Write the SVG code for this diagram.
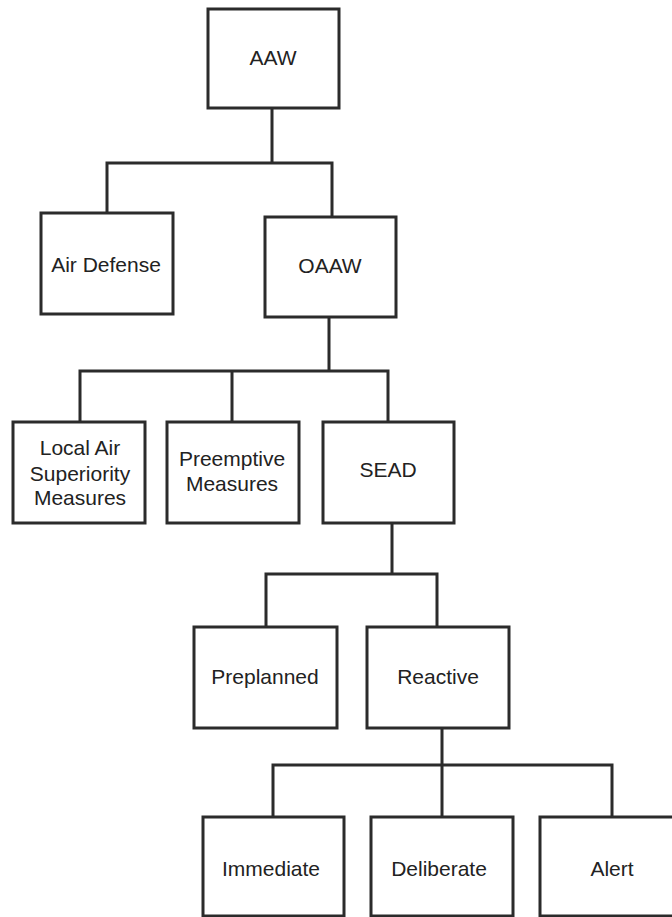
<svg xmlns="http://www.w3.org/2000/svg" width="672" height="917" viewBox="0 0 672 917">
<style>
.box{fill:#fff;stroke:#2b2b2b;stroke-width:3}
.lbl{font-family:"Liberation Sans",Arial,sans-serif;font-size:21px;fill:#222;text-anchor:middle}
.con{fill:none;stroke:#2b2b2b;stroke-width:3;stroke-linecap:square}
</style>
<rect width="672" height="917" fill="#fff"/>
<g id="connectors">
<path class="con" d="M272,108 V163 M107,163 H332 M107,163 V213 M332,163 V217"/>
<path class="con" d="M329,317 V371 M80,371 H388 M80,371 V422 M232,371 V422 M388,371 V422"/>
<path class="con" d="M392,523 V574 M266,574 H437 M266,574 V627 M437,574 V627"/>
<path class="con" d="M442,728 V765 M273,765 H612 M273,765 V817 M442,765 V817 M612,765 V817"/>
</g>
<g id="aaw"><rect class="box" x="208" y="9" width="131" height="99"/><text class="lbl" x="273" y="65">AAW</text></g>
<g id="air-defense"><rect class="box" x="41" y="213" width="132" height="101"/><text class="lbl" x="106" y="272">Air Defense</text></g>
<g id="oaaw"><rect class="box" x="265" y="217" width="131" height="100"/><text class="lbl" x="330" y="273">OAAW</text></g>
<g id="local-air"><rect class="box" x="13" y="422" width="132" height="101"/><text class="lbl" x="80"><tspan x="80" y="455">Local Air</tspan><tspan x="80" y="481">Superiority</tspan><tspan x="80" y="505">Measures</tspan></text></g>
<g id="preemptive"><rect class="box" x="167" y="422" width="132" height="101"/><text class="lbl" x="232"><tspan x="232" y="466">Preemptive</tspan><tspan x="232" y="491">Measures</tspan></text></g>
<g id="sead"><rect class="box" x="323" y="422" width="131" height="101"/><text class="lbl" x="388" y="477">SEAD</text></g>
<g id="preplanned"><rect class="box" x="194" y="627" width="143" height="101"/><text class="lbl" x="265" y="684">Preplanned</text></g>
<g id="reactive"><rect class="box" x="367" y="627" width="142" height="101"/><text class="lbl" x="438" y="684">Reactive</text></g>
<g id="immediate"><rect class="box" x="203" y="817" width="141" height="99"/><text class="lbl" x="271" y="876">Immediate</text></g>
<g id="deliberate"><rect class="box" x="371" y="817" width="142" height="99"/><text class="lbl" x="439" y="876">Deliberate</text></g>
<g id="alert"><rect class="box" x="540" y="817" width="142" height="99"/><text class="lbl" x="612" y="876">Alert</text></g>
</svg>
